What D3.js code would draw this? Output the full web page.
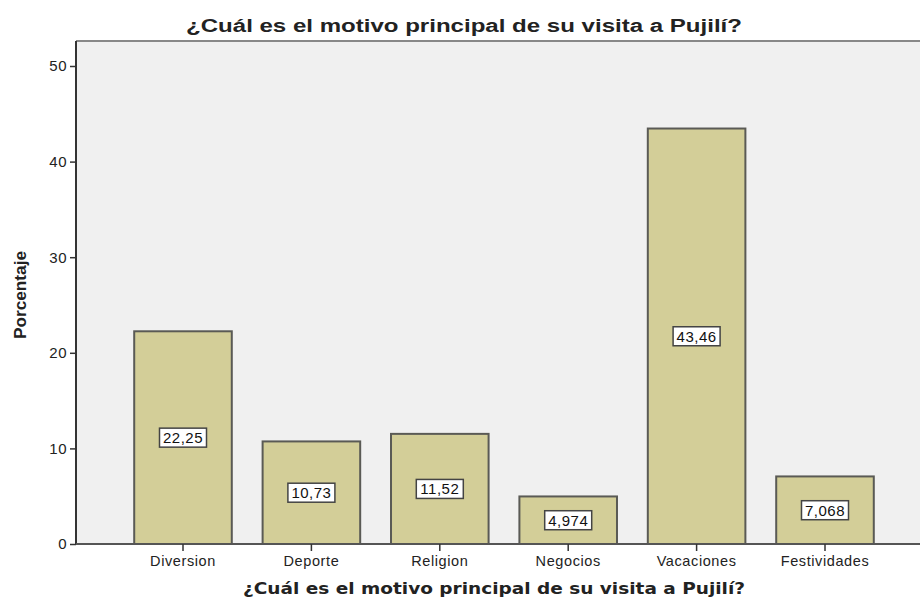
<!DOCTYPE html>
<html><head><meta charset="utf-8">
<script src="https://cdn.jsdelivr.net/npm/d3@7"></script>
<style>body{margin:0;background:#fff}svg{display:block}</style>
</head><body>
<script>
const categories = ["Diversion","Deporte","Religion","Negocios","Vacaciones","Festividades"];
const values = [22.25,10.73,11.52,4.974,43.46,7.068];
const valueLabels = ["22,25","10,73","11,52","4,974","43,46","7,068"];
const yTicks = [0,10,20,30,40,50];
const title = "¿Cuál es el motivo principal de su visita a Pujilí?";
const yTitle = "Porcentaje";

const W=920,H=599;
const svg=d3.select("body").append("svg").attr("width",W).attr("height",H);
const L=76,T=41,R=920,B=544;
const y=d3.scaleLinear().domain([0,50]).range([B,66]);
const x=d3.scaleBand().domain(categories).range([118.8,889.2]).paddingInner(0.24).paddingOuter(0.12);
const FONT="Liberation Sans, Arial, sans-serif";

svg.append("rect").attr("x",L).attr("y",T).attr("width",R-L).attr("height",B-T).attr("fill","#f0f0f0");
svg.append("line").attr("x1",L).attr("x2",R).attr("y1",T).attr("y2",T).attr("stroke","#888").attr("stroke-width",2);

svg.append("text").attr("x",464).attr("y",32).attr("text-anchor","middle")
  .attr("font-family",FONT).attr("font-weight","bold").attr("font-size",17.5)
  .attr("fill","#222").attr("textLength",556).attr("lengthAdjust","spacingAndGlyphs").text(title);

// bars
svg.selectAll("rect.bar").data(values).join("rect").attr("class","bar")
  .attr("x",(d,i)=>x(categories[i])).attr("y",d=>y(d))
  .attr("width",x.bandwidth()).attr("height",d=>B-y(d))
  .attr("fill","#d3ce98").attr("stroke","#5a5a55").attr("stroke-width",2);

// labels
const lg=svg.selectAll("g.lab").data(values).join("g").attr("class","lab")
  .attr("transform",(d,i)=>`translate(${x(categories[i])+x.bandwidth()/2},${y(d/2)})`);
lg.append("rect").attr("x",-23.5).attr("y",-9.5).attr("width",47).attr("height",19)
  .attr("fill","#fff").attr("stroke","#444").attr("stroke-width",1.5);
lg.append("text").attr("text-anchor","middle").attr("dy","0.36em")
  .attr("font-family",FONT).attr("font-size",15).attr("letter-spacing",0.5).attr("fill","#111")
  .text((d,i)=>valueLabels[i]);

// y axis
const ya=svg.append("g").attr("transform",`translate(${L},0)`)
  .call(d3.axisLeft(y).tickValues(yTicks).tickSize(6).tickPadding(3).tickFormat(d3.format("d")));
ya.select(".domain").attr("stroke","#333").attr("stroke-width",2).attr("d",`M0,${T}V${B}`);
ya.selectAll(".tick line").attr("stroke","#333").attr("stroke-width",1.5);
ya.selectAll(".tick text").attr("font-family",FONT).attr("font-size",15).attr("letter-spacing",0.5).attr("fill","#222");

// x axis
const xa=svg.append("g").attr("transform",`translate(0,${B})`)
  .call(d3.axisBottom(x).tickSize(7).tickPadding(5));
xa.select(".domain").attr("stroke","#555").attr("stroke-width",2).attr("d",`M${L},0H${R}`);
xa.selectAll(".tick line").attr("stroke","#333").attr("stroke-width",1.5);
xa.selectAll(".tick text").attr("font-family",FONT).attr("font-size",14.5).attr("letter-spacing",0.6).attr("fill","#222");

svg.append("text").attr("x",494).attr("y",594).attr("text-anchor","middle")
  .attr("font-family","DejaVu Sans, Verdana, sans-serif").attr("font-weight","bold").attr("font-size",15.5)
  .attr("fill","#222").attr("textLength",502).attr("lengthAdjust","spacingAndGlyphs").text(title);

svg.append("text").attr("transform","translate(26,295) rotate(-90)").attr("text-anchor","middle")
  .attr("font-family",FONT).attr("font-weight","bold").attr("font-size",17)
  .attr("fill","#222").attr("textLength",88).attr("lengthAdjust","spacingAndGlyphs").text(yTitle);
</script>
</body></html>
